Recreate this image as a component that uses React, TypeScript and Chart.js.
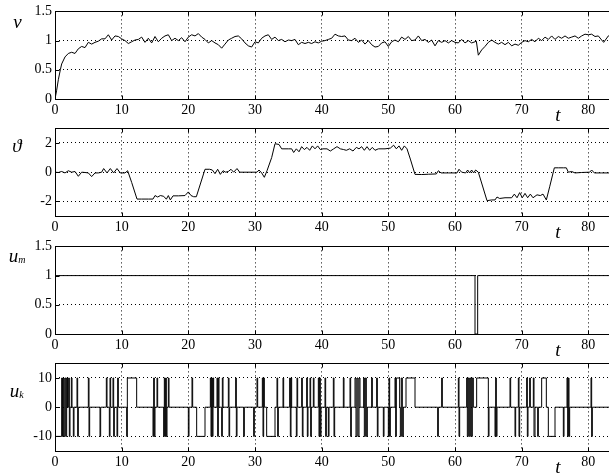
import React, { useEffect, useRef } from "react";
import { Chart, registerables } from "chart.js";

Chart.register(...registerables);

// ---------- data ----------
const xTicks = [0, 10, 20, 30, 40, 50, 60, 70, 80];
const vTicks = [0, 0.5, 1, 1.5];
const thetaTicks = [-2, 0, 2];
const umTicks = [0, 0.5, 1, 1.5];
const ukTicks = [-10, 0, 10];

// v(t): [t, v]
const vData: number[][] = [
  [0, 0], [0.25, 0.15], [0.5, 0.33], [0.8, 0.5], [1, 0.6], [1.5, 0.72], [2, 0.78], [2.5, 0.8], [3, 0.78],
  [3.5, 0.86], [4, 0.9], [4.5, 0.88], [5, 0.97], [5.5, 0.94], [6, 0.97], [6.5, 0.99], [7, 1.03], [7.5, 1.03],
  [8, 1.1], [8.5, 1.01], [9, 1.08], [9.5, 1.07], [10, 1.03], [10.5, 1.0], [11, 0.95], [11.5, 0.98], [12, 1.01],
  [12.5, 1.02], [13, 1.06], [13.5, 0.97], [14, 1.04], [14.5, 0.96], [15, 1.07], [15.5, 0.98], [16, 1.04],
  [16.5, 1.08], [17, 1.1], [17.5, 1.0], [18, 1.04], [18.5, 1.0], [19, 1.05], [19.5, 0.98], [20, 1.06],
  [20.5, 1.1], [21, 1.08], [21.5, 1.12], [22, 1.06], [22.5, 1.02], [23, 0.96], [23.5, 1.0], [24, 0.96],
  [24.5, 0.93], [25, 0.87], [25.5, 0.94], [26, 1.01], [26.5, 1.04], [27, 1.07], [27.5, 1.08], [28, 1.03],
  [28.5, 0.96], [29, 0.91], [29.5, 0.89], [30, 0.98], [30.5, 0.96], [31, 1.04], [31.5, 1.08], [32, 1.1],
  [32.5, 1.02], [33, 1.06], [33.5, 1.0], [34, 1.02], [34.5, 0.98], [35, 1.01], [35.5, 1.0], [36, 1.02],
  [36.5, 0.93], [37, 0.97], [37.5, 0.95], [38, 0.97], [38.5, 0.95], [39, 0.98], [39.5, 0.96], [40, 0.99],
  [40.5, 1.0], [41, 1.02], [41.5, 1.04], [42, 1.11], [42.5, 1.08], [43, 1.07], [43.5, 1.08], [44, 1.01],
  [44.5, 1.0], [45, 1.04], [45.5, 0.97], [46, 1.01], [46.5, 0.94], [47, 1.0], [47.5, 0.93], [48, 0.89],
  [48.5, 0.9], [49, 0.96], [49.5, 0.98], [50, 0.9], [50.5, 0.98], [51, 1.01], [51.5, 0.98], [52, 1.06],
  [52.5, 1.02], [53, 1.07], [53.5, 1.0], [54, 1.01], [54.5, 1.08], [55, 1.0], [55.5, 1.02], [56, 0.97],
  [56.5, 1.01], [57, 0.91], [57.5, 1.0], [58, 0.97], [58.5, 1.0], [59, 0.96], [59.5, 1.0], [60, 0.97],
  [60.5, 0.96], [61, 1.02], [61.5, 0.96], [62, 1.0], [62.5, 0.96], [63, 0.98], [63.2, 0.99], [63.5, 0.75],
  [64, 0.84], [64.5, 0.9], [65, 0.97], [65.5, 1.01], [66, 0.97], [66.5, 0.94], [67, 0.97], [67.5, 0.93],
  [68, 0.97], [68.5, 0.91], [69, 0.94], [69.5, 0.92], [70, 0.97], [70.5, 1.0], [71, 0.98], [71.5, 1.02],
  [72, 0.98], [72.5, 1.04], [73, 1.0], [73.5, 1.06], [74, 1.02], [74.5, 1.08], [75, 1.02], [75.5, 1.07],
  [76, 1.04], [76.5, 1.08], [77, 1.04], [77.5, 1.06], [78, 1.08], [78.5, 1.04], [79, 1.08], [79.5, 1.11],
  [80, 1.1], [80.5, 1.11], [81, 1.07], [81.5, 1.08], [82, 1.01], [82.3, 0.97], [83, 1.08], [83.5, 1.12], [84, 1.1],
];

// theta(t): [t, theta]
const thetaData: number[][] = [
  [0, 0], [0.5, -0.02], [1, 0.05], [1.5, -0.05], [2, 0.1], [2.5, 0], [3, 0.05], [3.5, -0.28], [4, 0],
  [4.5, -0.02], [5, -0.05], [5.5, -0.3], [6, -0.05], [6.5, -0.05], [7, 0], [7.3, 0.25], [7.8, -0.05],
  [8.3, 0.25], [8.8, -0.05], [9.3, 0.25], [9.8, -0.05], [10.5, -0.05], [10.9, 0.1], [11.5, -0.7],
  [12.3, -1.84], [13, -1.84], [14, -1.84], [14.7, -1.84], [15, -1.6], [15.4, -1.7], [15.8, -1.6],
  [16.3, -1.65], [16.7, -1.85], [17, -1.6], [17.3, -1.9], [17.7, -1.62], [18.5, -1.62], [19.5, -1.6],
  [20, -1.35], [20.4, -1.6], [20.8, -1.68], [21.2, -1.68], [22.5, 0.2], [23.2, 0.2], [23.6, 0.15],
  [24, -0.1], [24.4, 0.2], [24.8, -0.15], [25.2, 0.1], [25.6, 0], [26, 0.05], [26.4, 0.2], [26.8, 0],
  [27.3, 0.25], [27.7, 0], [28.5, 0], [29.5, 0], [30.3, 0], [30.6, 0.15], [31, -0.05], [31.4, -0.35],
  [31.8, 0.1], [32.5, 1.0], [33, 1.95], [33.6, 1.9], [34, 1.6], [35, 1.6], [35.5, 1.6], [35.8, 1.35],
  [36.2, 1.6], [36.6, 1.4], [37, 1.75], [37.4, 1.55], [37.8, 1.7], [38.2, 1.5], [38.6, 1.8], [39, 1.6],
  [39.4, 1.8], [39.8, 1.55], [40.2, 1.6], [40.8, 1.6], [41.3, 1.45], [41.8, 1.6], [42.3, 1.75], [42.8, 1.6],
  [43.3, 1.55], [43.7, 1.5], [44.2, 1.6], [44.7, 1.45], [45.2, 1.7], [45.6, 1.6], [46, 1.75], [46.4, 1.5],
  [46.8, 1.75], [47.2, 1.5], [47.6, 1.7], [48, 1.5], [48.5, 1.6], [49.5, 1.6], [50.3, 1.65], [50.8, 1.85],
  [51.2, 1.6], [51.6, 1.8], [52, 1.5], [52.4, 1.8], [52.8, 1.6], [53.3, 0.9], [54, -0.15], [55, -0.16],
  [56, -0.14], [57.2, -0.12], [57.5, 0.1], [57.9, -0.05], [59, -0.05], [60.3, -0.05], [60.6, 0.2], [61, 0],
  [61.6, -0.05], [61.9, 0.15], [62.2, -0.05], [62.5, 0.15], [62.8, -0.05], [63.1, 0.15], [63.5, 0.0],
  [64.8, -1.95], [65.5, -1.9], [66, -1.9], [66.3, -1.7], [66.7, -1.8], [67.5, -1.75], [68.5, -1.75],
  [68.9, -1.5], [69.3, -1.75], [69.7, -1.4], [70.1, -1.75], [70.5, -1.45], [70.9, -1.75], [71.3, -1.5],
  [71.7, -1.75], [72.3, -1.55], [72.8, -1.6], [73.2, -1.5], [73.7, -1.9], [74.2, -1.0], [74.9, 0.3],
  [75.5, 0.3], [76.3, 0.3], [76.7, 0.3], [77, 0.0], [77.5, 0.05], [78, -0.05], [79, -0.02], [80.2, 0],
  [80.5, 0.15], [80.9, -0.05], [82, -0.05], [84, -0.05],
];

// u_m(t): level held from t until next t
const umSteps: number[][] = [[0, 1], [63.0, 0], [63.4, 1], [84, 1]];

// u_k(t): level held from t until next t
const ukSteps: number[][] = [
  [0, -10], [1.0, 10], [1.12, -10], [1.25, 10], [1.37, -10], [1.5, 10], [1.62, -10], [1.75, 10], [1.87, 0],
  [2.05, 10], [2.15, -10], [2.25, 0], [2.45, 10], [2.55, 0], [2.75, -10], [2.85, 0], [3.3, 10], [3.4, -10],
  [3.5, 0], [5.0, 10], [5.1, -10], [5.2, 0], [6.75, -10], [6.85, 0], [7.7, 10], [7.8, 0], [8.15, -10],
  [8.25, 10], [8.35, 0], [8.7, 10], [8.8, -10], [8.9, 0], [9.3, -10], [9.4, 10], [9.5, 0],
  [10.75, -10], [10.85, 10], [12.25, 0],
  [14.7, -10], [14.8, 10], [14.9, -10], [15.0, 0], [15.3, 10], [15.4, 0], [16.3, -10], [16.4, 10],
  [16.5, -10], [16.6, 10], [16.7, -10], [16.8, 0], [17.0, 10], [17.1, 0],
  [20.0, -10], [20.1, 0], [20.55, 10], [20.65, 0], [21.25, -10], [22.5, 0],
  [23.3, 10], [23.4, -10], [23.5, 10], [23.6, -10], [23.7, 10], [23.8, 0], [24.3, 10], [24.4, -10],
  [24.5, 10], [24.6, 0], [25.0, -10], [25.1, 10], [25.2, 0], [26.0, 10], [26.1, -10], [26.2, 0],
  [27.1, 10], [27.2, -10], [27.3, 0], [28.3, -10], [28.4, 0],
  [29.8, -10], [29.9, 0], [30.3, 10], [30.4, 0], [31.1, 10], [31.2, -10], [31.3, 10], [31.4, 0],
  [31.75, -10], [33.0, 0], [33.3, 10], [33.4, -10], [33.5, 0], [34.2, 10], [34.3, 0],
  [35.2, 10], [35.3, -10], [35.4, 10], [35.5, 0], [36.2, -10], [36.3, 10], [36.4, 0], [37.0, 10],
  [37.1, -10], [37.2, 0], [37.75, 10], [37.85, -10], [37.95, 0], [38.25, 10], [38.35, -10], [38.45, 0],
  [38.75, 10], [38.85, 0], [39.5, 10], [39.6, -10], [39.7, 10], [39.8, -10], [39.9, 0],
  [40.5, 10], [40.6, -10], [40.7, 0], [41.0, -10], [41.1, 0], [41.75, 10], [41.85, -10], [41.95, 0],
  [43.25, 10], [43.35, 0], [44.25, 10], [44.35, -10], [44.45, 0], [45.0, 10], [45.15, -10], [45.3, 10],
  [45.45, -10], [45.6, 10], [45.75, 0], [46.3, 10], [46.4, -10], [46.55, 10], [46.7, -10], [46.85, 0],
  [47.5, 10], [47.6, 0], [48.25, 10], [48.35, -10], [48.45, 0], [49.25, -10], [49.35, 0],
  [50.0, -10], [50.1, 10], [50.2, -10], [50.3, 0], [51.0, 10], [51.1, -10], [51.2, 10], [51.7, 0],
  [51.8, -10], [51.95, 10], [52.1, -10], [52.25, 0], [52.65, 10], [54.0, 0],
  [57.4, -10], [57.5, 0], [58.0, 10], [58.1, 0],
  [60.5, 10], [60.6, -10], [60.7, 0], [61.75, 10], [61.85, -10], [62.0, 10], [62.15, -10], [62.3, 10],
  [62.45, -10], [62.6, 10], [62.75, 0], [63.25, 10], [65.0, -10], [65.1, 0], [66.0, -10], [66.1, 10],
  [66.2, -10], [66.3, 0], [68.25, 10], [68.35, 0], [69.0, -10], [69.1, 0], [69.5, 10], [69.6, -10],
  [69.7, 0], [70.75, 10], [70.85, -10], [70.95, 0], [71.2, 10], [71.3, 0], [71.75, 10], [71.85, -10],
  [72.0, 0], [72.4, -10], [72.5, 0], [73.0, 10], [73.7, 0], [74.0, -10], [75.0, 0],
  [76.25, -10], [76.35, 0], [76.8, 10], [76.9, -10], [77.0, 10], [77.1, -10], [77.2, 0],
  [80.4, 10], [80.5, -10], [80.6, 0], [84, 0],
];

// ---------- layout ----------
const SERIF = '"Liberation Serif", "DejaVu Serif", serif';
const PLOT_TOP = 11;
const PLOT_H = 88;
const CANVAS_W = 620;

type Label = { text: string; sub?: string; x: number; y: number; size: number; subSize?: number };

type Panel = {
  top: number;
  height: number;
  data: number[][];
  stepped: boolean;
  yMin: number;
  yMax: number;
  yTicks: number[];
  label: Label;
};

const panels: Panel[] = [
  { top: 0, height: 124, data: vData, stepped: false, yMin: 0, yMax: 1.5, yTicks: vTicks,
    label: { text: "v", x: 17.5, y: 27.5, size: 19 } },
  { top: 117, height: 124, data: thetaData, stepped: false, yMin: -3, yMax: 3, yTicks: thetaTicks,
    label: { text: "\u03D1", x: 17, y: 151.5, size: 19 } },
  { top: 235, height: 124, data: umSteps, stepped: true, yMin: 0, yMax: 1.5, yTicks: umTicks,
    label: { text: "u", sub: "m", x: 15.5, y: 261.5, size: 19, subSize: 10 } },
  { top: 352, height: 123, data: ukSteps, stepped: true, yMin: -15, yMax: 15, yTicks: ukTicks,
    label: { text: "u", sub: "k", x: 16.5, y: 396.5, size: 19, subSize: 10 } },
];

function PanelChart({ p }: { p: Panel }) {
  const ref = useRef<HTMLCanvasElement | null>(null);
  useEffect(() => {
    if (!ref.current) return;
    const deco = {
      id: "deco",
      afterDraw(chart: any) {
        const { ctx, chartArea: a, scales } = chart;
        ctx.save();
        ctx.strokeStyle = "#000";
        ctx.lineWidth = 1;
        ctx.setLineDash([]);
        const L = Math.round(a.left) + 0.5;
        const T = Math.round(a.top) + 0.5;
        const R = Math.round(a.right) + 0.5;
        const B = Math.round(a.bottom) + 0.5;
        ctx.strokeRect(L, T, R - L, B - T);
        ctx.beginPath();
        for (const v of xTicks) {
          const x = Math.round(scales.x.getPixelForValue(v)) + 0.5;
          ctx.moveTo(x, T); ctx.lineTo(x, T + 4);
          ctx.moveTo(x, B); ctx.lineTo(x, B - 4);
        }
        for (const v of p.yTicks) {
          const y = Math.round(scales.y.getPixelForValue(v)) + 0.5;
          ctx.moveTo(L, y); ctx.lineTo(L + 4, y);
          ctx.moveTo(R, y); ctx.lineTo(R - 4, y);
        }
        ctx.stroke();
        ctx.fillStyle = "#000";
        ctx.textBaseline = "alphabetic";
        ctx.textAlign = "center";
        ctx.font = `italic 19px ${SERIF}`;
        ctx.fillText("t", 558, B + 21);
        const lb = p.label;
        ctx.font = `italic ${lb.size}px ${SERIF}`;
        ctx.textAlign = "left";
        const w = ctx.measureText(lb.text).width;
        const x0 = lb.x - w / 2 - (lb.sub ? 2 : 0);
        ctx.fillText(lb.text, x0, lb.y - p.top);
        if (lb.sub) {
          ctx.font = `italic ${lb.subSize}px ${SERIF}`;
          ctx.fillText(lb.sub, x0 + w, lb.y - p.top + 1.5);
        }
        ctx.restore();
      },
    };
    const chart = new Chart(ref.current, {
      type: "line",
      data: {
        datasets: [
          {
            data: p.data.map(([x, y]) => ({ x, y })),
            borderColor: "#000",
            borderWidth: 1,
            pointRadius: 0,
            tension: 0,
            fill: false,
            stepped: p.stepped ? "before" : false,
          } as any,
        ],
      },
      options: {
        responsive: false,
        animation: false,
        devicePixelRatio: 1,
        layout: { padding: { left: 0, right: 5, top: PLOT_TOP, bottom: 0 } },
        plugins: { legend: { display: false }, tooltip: { enabled: false } },
        scales: {
          x: {
            type: "linear",
            min: 0,
            max: 84,
            afterBuildTicks: (s: any) => { s.ticks = xTicks.map((value) => ({ value })); },
            afterFit: (s: any) => { s.height = p.height - PLOT_TOP - PLOT_H; },
            ticks: {
              autoSkip: false,
              maxRotation: 0,
              padding: 3,
              color: "#000",
              font: { family: SERIF, size: 14 },
              callback: (v: any) => String(v),
            },
            grid: { color: "#000", lineWidth: 1, drawTicks: false },
            border: { display: false, dash: [1, 3] },
          },
          y: {
            type: "linear",
            min: p.yMin,
            max: p.yMax,
            afterBuildTicks: (s: any) => { s.ticks = p.yTicks.map((value) => ({ value })); },
            afterFit: (s: any) => { s.width = 55; },
            ticks: {
              autoSkip: false,
              padding: 3,
              color: "#000",
              font: { family: SERIF, size: 14 },
              callback: (v: any) => String(v),
            },
            grid: { color: "#000", lineWidth: 1, drawTicks: false },
            border: { display: false, dash: [1, 3] },
          },
        },
      } as any,
      plugins: [deco],
    });
    return () => chart.destroy();
  }, [p]);
  return (
    <canvas
      ref={ref}
      width={CANVAS_W}
      height={p.height}
      style={{ position: "absolute", left: 0, top: p.top, width: CANVAS_W, height: p.height }}
    />
  );
}

export default function App() {
  return (
    <div
      style={{
        position: "absolute",
        left: 0,
        top: 0,
        width: 609,
        height: 475,
        overflow: "hidden",
        background: "#fff",
      }}
    >
      {panels.map((p, i) => (
        <PanelChart key={i} p={p} />
      ))}
    </div>
  );
}
